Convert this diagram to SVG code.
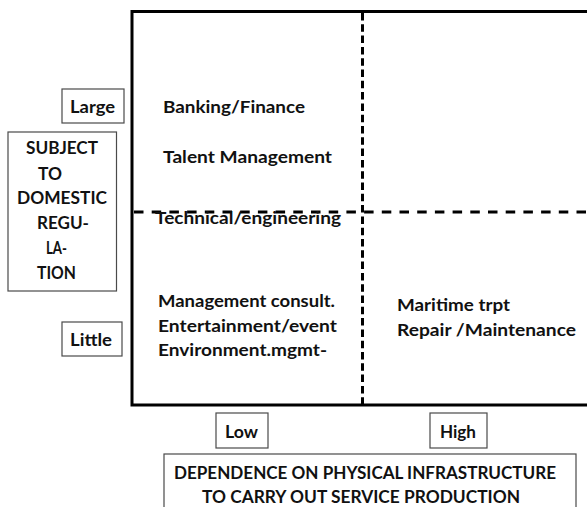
<svg xmlns="http://www.w3.org/2000/svg" width="587" height="507" viewBox="0 0 587 507">
<style>
text{font-family:"Lato","Open Sans","Liberation Sans",sans-serif;font-weight:bold;fill:#111;font-size:17px}
.lbl{font-size:16.5px}
.box{fill:#fff;stroke:#4a4a4a;stroke-width:1.2}
.axis{stroke:#000;stroke-width:3;fill:none}
.dash{stroke:#000;stroke-width:3;fill:none}
</style>
<rect width="587" height="507" fill="#fff"/>
<g id="connectors">
<path class="axis" d="M587 11.5 H132 V405 H587"/>
<path class="dash" d="M362.5 13 V405" stroke-dasharray="7.5 3.8"/>
<path class="dash" d="M134 212 H587" stroke-dasharray="9.5 8.2"/>
</g>
<g id="large"><rect class="box" x="62" y="89" width="62" height="34"/><text class="lbl" x="70" y="113" textLength="45" lengthAdjust="spacingAndGlyphs">Large</text></g>
<g id="little"><rect class="box" x="62" y="322" width="60" height="34"/><text class="lbl" x="70" y="346" textLength="42" lengthAdjust="spacingAndGlyphs">Little</text></g>
<g id="subject"><rect class="box" x="8" y="132" width="108.5" height="159"/>
<text class="lbl" x="26" y="154" textLength="72" lengthAdjust="spacingAndGlyphs">SUBJECT</text>
<text class="lbl" x="38" y="180" textLength="24" lengthAdjust="spacingAndGlyphs">TO</text>
<text class="lbl" x="17" y="204" textLength="90" lengthAdjust="spacingAndGlyphs">DOMESTIC</text>
<text class="lbl" x="37" y="229" textLength="52" lengthAdjust="spacingAndGlyphs">REGU-</text>
<text class="lbl" x="46" y="254" textLength="21" lengthAdjust="spacingAndGlyphs">LA-</text>
<text class="lbl" x="37" y="279" textLength="39" lengthAdjust="spacingAndGlyphs">TION</text>
</g>
<g id="low"><rect class="box" x="216" y="413" width="52" height="35"/><text class="lbl" x="225" y="438" textLength="33" lengthAdjust="spacingAndGlyphs">Low</text></g>
<g id="high"><rect class="box" x="430" y="413" width="57" height="35"/><text class="lbl" x="440" y="438" textLength="36" lengthAdjust="spacingAndGlyphs">High</text></g>
<g id="dependence"><rect class="box" x="164" y="454" width="412" height="60"/>
<text class="lbl" x="174" y="479" textLength="382" lengthAdjust="spacingAndGlyphs">DEPENDENCE ON PHYSICAL INFRASTRUCTURE</text>
<text class="lbl" x="202" y="503" textLength="318" lengthAdjust="spacingAndGlyphs">TO CARRY OUT SERVICE PRODUCTION</text>
</g>
<g id="q-top-left">
<text x="163" y="113" textLength="142" lengthAdjust="spacingAndGlyphs">Banking/Finance</text>
<text x="163" y="163" textLength="169" lengthAdjust="spacingAndGlyphs">Talent Management</text>
<text x="155" y="224" textLength="186" lengthAdjust="spacingAndGlyphs">Technical/engineering</text>
</g>
<g id="q-bottom-left">
<text x="158" y="307" textLength="177" lengthAdjust="spacingAndGlyphs">Management consult.</text>
<text x="158" y="331.5" textLength="179" lengthAdjust="spacingAndGlyphs">Entertainment/event</text>
<text x="158" y="356" textLength="169" lengthAdjust="spacingAndGlyphs">Environment.mgmt-</text>
</g>
<g id="q-bottom-right">
<text x="397" y="311" textLength="113" lengthAdjust="spacingAndGlyphs">Maritime trpt</text>
<text x="397" y="335.5" textLength="179" lengthAdjust="spacingAndGlyphs">Repair /Maintenance</text>
</g>
</svg>
